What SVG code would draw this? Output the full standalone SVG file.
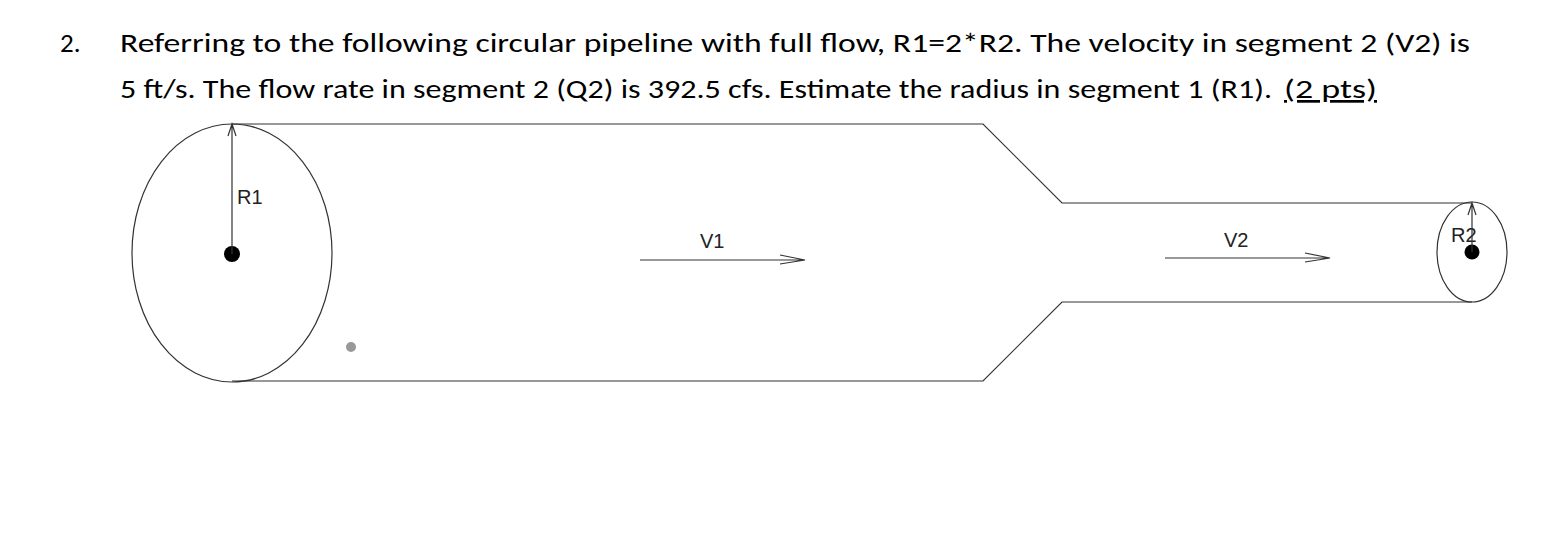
<svg xmlns="http://www.w3.org/2000/svg" width="1564" height="554" viewBox="0 0 1564 554">
<style>
.t{font-family:Calibri,"Carlito","Liberation Sans",sans-serif;font-size:27px;fill:#000}
.l{font-family:"Liberation Sans",Arial,sans-serif;font-size:20px;fill:#222}
.s{fill:none;stroke:#333;stroke-width:1.2}
</style>
<rect width="1564" height="554" fill="#fff"/>
<g id="question">
<text class="t" x="60" y="52">2.</text>
<text class="t" x="120" y="52" textLength="1350" lengthAdjust="spacingAndGlyphs">Referring to the following circular pipeline with full flow, R1=2*R2. The velocity in segment 2 (V2) is</text>
<text class="t" x="120" y="98" textLength="1152" lengthAdjust="spacingAndGlyphs">5 ft/s. The flow rate in segment 2 (Q2) is 392.5 cfs. Estimate the radius in segment 1 (R1).</text>
<text class="t" x="1284" y="98" textLength="93" lengthAdjust="spacingAndGlyphs" text-decoration="underline">(2 pts)</text>
</g>
<g id="pipe">
<path class="s" d="M232 124 H983 L1062 203 H1472 M232 381 H983 L1062 302 H1472"/>
</g>
<g id="section1">
<ellipse class="s" cx="232" cy="253" rx="100" ry="129"/>
<circle cx="232" cy="254" r="8" fill="#000"/>
<circle cx="351" cy="347" r="5" fill="#999"/>
<text class="l" x="237" y="204">R1</text>
</g>
<g id="section2">
<ellipse class="s" cx="1472" cy="252" rx="35" ry="50"/>
<circle cx="1472" cy="252" r="7.5" fill="#000"/>
<text class="l" x="1451" y="242">R2</text>
</g>
<g id="connectors" class="s">
<path d="M232 254 V125 M228 136 L232 124 L236 136"/>
<path d="M1472 252 V204 M1468 215 L1472 203 L1476 215"/>
<path d="M640 260 H805 M780 255 L805 260 L780 264"/>
<path d="M1165 258 H1330 M1305 253 L1330 258 L1305 262"/>
</g>
<g id="labels">
<text class="l" x="700" y="248">V1</text>
<text class="l" x="1224" y="247">V2</text>
</g>
</svg>
